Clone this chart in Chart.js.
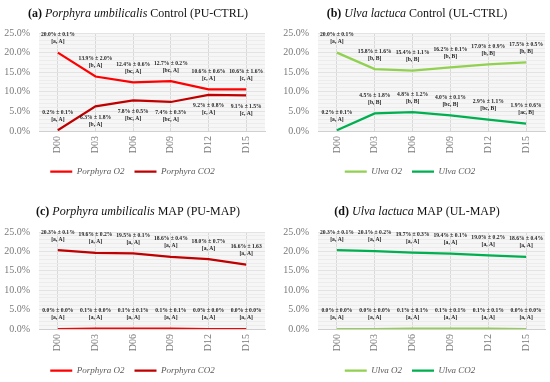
<!DOCTYPE html>
<html>
<head>
<meta charset="utf-8">
<script src="https://cdn.jsdelivr.net/npm/chart.js@4.4.1/dist/chart.umd.min.js"></script>
<style>
  html, body { margin: 0; padding: 0; background: #fff; overflow: hidden; }
  #wrap { position: relative; width: 550px; height: 382px; overflow: hidden; }
  canvas { position: absolute; }
</style>
</head>
<body>
<div id="wrap">
  <canvas id="pa" width="275" height="191" style="left:0;top:0"></canvas>
  <canvas id="pb" width="275" height="191" style="left:275px;top:0"></canvas>
  <canvas id="pc" width="275" height="194" style="left:0;top:191px"></canvas>
  <canvas id="pd" width="275" height="194" style="left:275px;top:191px"></canvas>
</div>
<script>
const days = ['D00', 'D03', 'D06', 'D09', 'D12', 'D15'];

// (a) Porphyra control
const puCtrlO2 = [20.0, 13.9, 12.4, 12.7, 10.6, 10.6];
const puCtrlO2Text = ['20.0% ± 0.1%', '13.9% ± 2.0%', '12.4% ± 0.6%', '12.7% ± 0.2%', '10.6% ± 0.6%', '10.6% ± 1.6%'];
const puCtrlO2Group = ['[a, A]', '[b, A]', '[bc, A]', '[bc, A]', '[c, A]', '[c, A]'];
const puCtrlCO2 = [0.2, 6.3, 7.8, 7.4, 9.2, 9.1];
const puCtrlCO2Text = ['0.2% ± 0.1%', '6.3% ± 1.8%', '7.8% ± 0.5%', '7.4% ± 0.3%', '9.2% ± 0.8%', '9.1% ± 1.5%'];
const puCtrlCO2Group = ['[a, A]', '[b, A]', '[bc, A]', '[bc, A]', '[c, A]', '[c, A]'];

// (b) Ulva control
const ulCtrlO2 = [20.0, 15.8, 15.4, 16.2, 17.0, 17.5];
const ulCtrlO2Text = ['20.0% ± 0.1%', '15.8% ± 1.6%', '15.4% ± 1.1%', '16.2% ± 0.1%', '17.0% ± 0.9%', '17.5% ± 0.5%'];
const ulCtrlO2Group = ['[a, A]', '[b, B]', '[b, B]', '[b, B]', '[b, B]', '[b, B]'];
const ulCtrlCO2 = [0.2, 4.5, 4.8, 4.0, 2.9, 1.9];
const ulCtrlCO2Text = ['0.2% ± 0.1%', '4.5% ± 1.8%', '4.8% ± 1.2%', '4.0% ± 0.1%', '2.9% ± 1.1%', '1.9% ± 0.6%'];
const ulCtrlCO2Group = ['[a, A]', '[b, B]', '[b, B]', '[bc, B]', '[bc, B]', '[ac, B]'];

// (c) Porphyra MAP
const puMapO2 = [0.0, 0.1, 0.1, 0.1, 0.0, 0.0];
const puMapO2Text = ['0.0% ± 0.0%', '0.1% ± 0.0%', '0.1% ± 0.1%', '0.1% ± 0.1%', '0.0% ± 0.0%', '0.0% ± 0.0%'];
const puMapO2Group = ['[a, A]', '[a, A]', '[a, A]', '[a, A]', '[a, A]', '[a, A]'];
const puMapCO2 = [20.3, 19.6, 19.5, 18.6, 18.0, 16.6];
const puMapCO2Text = ['20.3% ± 0.1%', '19.6% ± 0.2%', '19.5% ± 0.1%', '18.6% ± 0.4%', '18.0% ± 0.7%', '16.6% ± 1.63'];
const puMapCO2Group = ['[a, A]', '[a, A]', '[a, A]', '[a, A]', '[a, A]', '[a, A]'];

// (d) Ulva MAP
const ulMapO2 = [0.0, 0.0, 0.1, 0.1, 0.1, 0.0];
const ulMapO2Text = ['0.0% ± 0.0%', '0.0% ± 0.0%', '0.1% ± 0.1%', '0.1% ± 0.1%', '0.1% ± 0.1%', '0.0% ± 0.0%'];
const ulMapO2Group = ['[a, A]', '[a, A]', '[a, A]', '[a, A]', '[a, A]', '[a, A]'];
const ulMapCO2 = [20.3, 20.1, 19.7, 19.4, 19.0, 18.6];
const ulMapCO2Text = ['20.3% ± 0.1%', '20.1% ± 0.2%', '19.7% ± 0.3%', '19.4% ± 0.1%', '19.0% ± 0.2%', '18.6% ± 0.4%'];
const ulMapCO2Group = ['[a, A]', '[a, A]', '[a, A]', '[a, A]', '[a, A]', '[a, A]'];

const yTicks = [0, 5, 10, 15, 20, 25];

const SERIF = '"Liberation Serif", "DejaVu Serif", serif';
const RED = '#ff0000', DARKRED = '#c00000';
const LIGHTGREEN = '#92d050', GREEN = '#00b050';

// grey plot background
const plotBg = {
  id: 'plotBg',
  beforeDraw(chart) {
    const a = chart.chartArea;
    chart.ctx.save();
    chart.ctx.fillStyle = '#f6f6f6';
    chart.ctx.fillRect(a.left, a.top, a.right - a.left, a.bottom - a.top);
    chart.ctx.restore();
  }
};

// "mean ± sd" and group letters next to each point
const pointLabels = {
  id: 'pointLabels',
  afterDatasetsDraw(chart) {
    const ctx = chart.ctx;
    ctx.save();
    ctx.font = 'bold 5.6px ' + SERIF;
    ctx.fillStyle = '#1e1e1e';
    ctx.textAlign = 'center';
    ctx.textBaseline = 'middle';
    chart.data.datasets.forEach((ds, di) => {
      const meta = chart.getDatasetMeta(di);
      meta.data.forEach((pt, i) => {
        const below = ds.labelBelow && ds.labelBelow[i];
        const y1 = below ? pt.y + 11 : pt.y - 18;
        ctx.fillText(ds.labelText[i], pt.x, y1);
        ctx.fillText(ds.labelGroup[i], pt.x, y1 + 7);
      });
    });
    ctx.restore();
  }
};

// title with bold letter, italic species name
const mixedTitle = {
  id: 'mixedTitle',
  afterDraw(chart, args, opts) {
    const ctx = chart.ctx;
    const fonts = {
      b: 'bold 12px ' + SERIF,
      i: 'italic 12px ' + SERIF,
      n: '12px ' + SERIF
    };
    ctx.save();
    ctx.fillStyle = '#111';
    ctx.textBaseline = 'middle';
    ctx.textAlign = 'left';
    let total = 0;
    opts.parts.forEach(p => { ctx.font = fonts[p[0]]; total += ctx.measureText(p[1]).width; });
    let x = opts.x - total / 2;
    opts.parts.forEach(p => {
      ctx.font = fonts[p[0]];
      ctx.fillText(p[1], x, opts.y);
      x += ctx.measureText(p[1]).width;
    });
    ctx.restore();
  }
};

function makePanel(id, cfg) {
  const ctx = document.getElementById(id).getContext('2d');
  return new Chart(ctx, {
    type: 'line',
    data: {
      labels: days,
      datasets: cfg.series.map(s => ({
        label: s.name,
        data: s.values,
        labelText: s.text,
        labelGroup: s.group,
        labelBelow: s.below,
        borderColor: s.color,
        backgroundColor: s.color,
        borderWidth: 2.25,
        pointRadius: 0,
        tension: 0,
        fill: false
      }))
    },
    options: {
      responsive: false,
      animation: false,
      layout: { padding: { top: cfg.top, left: 0, right: cfg.right, bottom: cfg.bottom } },
      plugins: {
        legend: {
          display: true,
          position: 'bottom',
          labels: {
            boxWidth: 22,
            boxHeight: 0,
            padding: 10,
            color: '#595959',
            font: { family: SERIF, size: 9, style: 'italic' }
          }
        },
        tooltip: { enabled: false },
        mixedTitle: { parts: cfg.title, x: cfg.titleX, y: cfg.titleY }
      },
      scales: {
        x: {
          offset: true,
          grid: { color: '#d9d9d9', drawTicks: false, offset: false },
          border: { color: '#d0d0d0' },
          ticks: {
            color: '#7a7a7a',
            minRotation: 90,
            maxRotation: 90,
            padding: 5,
            font: { family: SERIF, size: 10 }
          },
          afterFit(s) { s.height = cfg.xHeight; }
        },
        y: {
          min: 0,
          max: 25,
          grid: {
            drawTicks: false,
            color: c => (yTicks.includes(c.tick.value) ? '#e3e3e3' : '#ececec')
          },
          border: { display: false },
          ticks: {
            stepSize: 1,
            autoSkip: false,
            padding: 9,
            color: '#7a7a7a',
            font: { family: SERIF, size: 10 },
            callback: v => (yTicks.includes(v) ? v.toFixed(1) + '%' : '')
          },
          afterFit(s) { s.width = cfg.left; }
        }
      }
    },
    plugins: [plotBg, pointLabels, mixedTitle]
  });
}

const allAbove = [false, false, false, false, false, false];

makePanel('pa', {
  left: 39, right: 10, top: 33, bottom: 5, xHeight: 26, titleX: 138, titleY: 14,
  title: [['b', '(a)'], ['n', ' '], ['i', 'Porphyra umbilicalis'], ['n', ' Control (PU-CTRL)']],
  series: [
    { name: 'Porphyra O2', values: puCtrlO2, text: puCtrlO2Text, group: puCtrlO2Group, below: allAbove, color: RED },
    { name: 'Porphyra CO2', values: puCtrlCO2, text: puCtrlCO2Text, group: puCtrlCO2Group,
      below: [false, true, true, true, true, true], color: DARKRED }
  ]
});

makePanel('pb', {
  left: 43, right: 5, top: 33, bottom: 5, xHeight: 26, titleX: 142, titleY: 14,
  title: [['b', '(b)'], ['n', ' '], ['i', 'Ulva lactuca'], ['n', ' Control (UL-CTRL)']],
  series: [
    { name: 'Ulva O2', values: ulCtrlO2, text: ulCtrlO2Text, group: ulCtrlO2Group, below: allAbove, color: LIGHTGREEN },
    { name: 'Ulva CO2', values: ulCtrlCO2, text: ulCtrlCO2Text, group: ulCtrlCO2Group, below: allAbove, color: GREEN }
  ]
});

makePanel('pc', {
  left: 39, right: 10, top: 41, bottom: 0, xHeight: 27, titleX: 138, titleY: 21,
  title: [['b', '(c)'], ['n', ' '], ['i', 'Porphyra umbilicalis'], ['n', ' MAP (PU-MAP)']],
  series: [
    { name: 'Porphyra O2', values: puMapO2, text: puMapO2Text, group: puMapO2Group, below: allAbove, color: RED },
    { name: 'Porphyra CO2', values: puMapCO2, text: puMapCO2Text, group: puMapCO2Group, below: allAbove, color: DARKRED }
  ]
});

makePanel('pd', {
  left: 43, right: 5, top: 41, bottom: 0, xHeight: 27, titleX: 142, titleY: 21,
  title: [['b', '(d)'], ['n', ' '], ['i', 'Ulva lactuca'], ['n', ' MAP (UL-MAP)']],
  series: [
    { name: 'Ulva O2', values: ulMapO2, text: ulMapO2Text, group: ulMapO2Group, below: allAbove, color: LIGHTGREEN },
    { name: 'Ulva CO2', values: ulMapCO2, text: ulMapCO2Text, group: ulMapCO2Group, below: allAbove, color: GREEN }
  ]
});
</script>
</body>
</html>
